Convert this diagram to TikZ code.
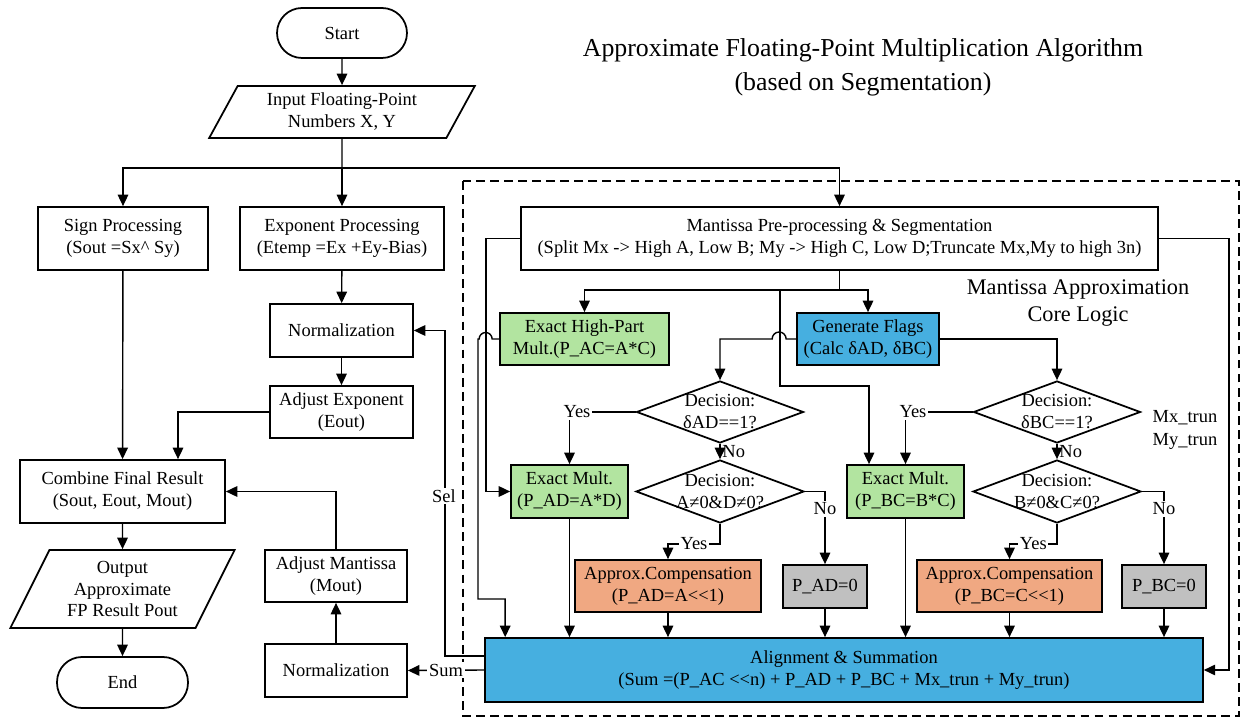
\documentclass[tikz,border=0pt]{standalone}
\usepackage{fontspec}
\setmainfont{Liberation Serif}
\usepackage{tikz}
\usetikzlibrary{shapes.geometric, arrows.meta, positioning, calc}

\definecolor{exactgreen}{RGB}{178,228,160}
\definecolor{flagblue}{RGB}{70,175,224}
\definecolor{approxorange}{RGB}{240,168,130}
\definecolor{zerogray}{RGB}{192,192,192}

\newcommand{\shl}{<\kern0pt<}

\begin{document}
\begin{tikzpicture}[x=0.02cm, y=-0.02cm, font=\fontsize{10.5}{12.5}\selectfont,
    proc/.style={draw, line width=1pt, align=center, inner sep=1pt},
    term/.style={proc, rounded corners=0.5cm},
    io/.style={draw, line width=1pt, align=center, trapezium, trapezium left angle=63,
      trapezium right angle=117, trapezium stretches=true, inner sep=1pt},
    dec/.style={draw, line width=1pt, diamond, inner sep=0pt},
    arr/.style={line width=0.8pt, -{Triangle[length=6.5pt,width=6pt]}},
    lnk/.style={line width=0.8pt},
    lbl/.style={fill=white, inner sep=1pt},
  ]
    % canvas
    \path[use as bounding box, fill=white] (0,0) rectangle (1242,719);

    % Titles
    \node[font=\fontsize{14.7}{19.5}\selectfont, align=center] (title) at (863,67)
      {Approximate Floating-Point Multiplication Algorithm\\(based on Segmentation)};
    \node[font=\fontsize{12.7}{15}\selectfont, align=center] (core) at (1078,303)
      {Mantissa Approximation\\Core Logic};

    % Dashed frame of the mantissa core
    \draw[line width=0.9pt, dash pattern=on 5pt off 3pt] (463,181) rectangle (1239,716);

    % Left column: sign / exponent / output
    \node[term, minimum width=2.6cm, minimum height=1cm] (start) at (342,33) {Start};
    \node[io, minimum width=5.32cm, minimum height=1.04cm] (inp) at (342,112) {Input Floating-Point\\Numbers X, Y};
    \node[proc, minimum width=3.4cm, minimum height=1.26cm] (sgn) at (123,238.5) {Sign Processing\\(Sout =Sx\textasciicircum{} Sy)};
    \node[proc, minimum width=4.08cm, minimum height=1.26cm] (expo) at (342,238.5) {Exponent Processing\\(Etemp =Ex +Ey-Bias)};
    \node[proc, minimum width=2.86cm, minimum height=1.06cm] (norm1) at (341.5,330.5) {Normalization};
    \node[proc, minimum width=2.86cm, minimum height=1.04cm] (adjexp) at (341.5,412) {Adjust Exponent\\(Eout)};
    \node[proc, minimum width=4.1cm, minimum height=1.26cm] (comb) at (122.5,491.5) {Combine Final Result\\(Sout, Eout, Mout)};
    \node[io, minimum width=4.5cm, minimum height=1.56cm] (outp) at (122.5,589) {Output\\Approximate\\FP Result Pout};
    \node[term, minimum width=2.62cm, minimum height=1.02cm] (endn) at (122.5,682.5) {End};
    \node[proc, minimum width=2.84cm, minimum height=1.04cm] (adjman) at (336,576) {Adjust Mantissa\\(Mout)};
    \node[proc, minimum width=2.84cm, minimum height=1.06cm] (norm2) at (336,670.5) {Normalization};

    % Mantissa core
    \node[proc, minimum width=12.74cm, minimum height=1.26cm] (mpre) at (839.5,238.5)
      {Mantissa Pre-processing \& Segmentation\\(Split Mx -> High A, Low B; My -> High C, Low D;Truncate Mx,My to high 3n)};
    \node[proc, fill=exactgreen, minimum width=3.38cm, minimum height=1.04cm] (hpm) at (584.5,339) {Exact High-Part\\Mult.(P\_AC=A*C)};
    \node[proc, fill=flagblue, minimum width=2.84cm, minimum height=1.04cm] (flags) at (868,339) {Generate Flags\\(Calc δAD, δBC)};

    % AD branch
    \node[dec, minimum width=3.34cm, minimum height=1.24cm, label={[align=center]center:{Decision:\\δAD==1?}}] (dAD) at (720,412) {};
    \node[dec, minimum width=3.36cm, minimum height=1.26cm, label={[align=center]center:{Decision:\\A≠0\&D≠0?}}] (dAD2) at (720,491.5) {};
    \node[proc, fill=exactgreen, minimum width=2.34cm, minimum height=1.06cm] (exAD) at (569.5,491.5) {Exact Mult.\\(P\_AD=A*D)};
    \node[proc, fill=approxorange, minimum width=3.72cm, minimum height=1.04cm] (apAD) at (668,586) {Approx.Compensation\\(P\_AD=A\shl1)};
    \node[proc, fill=zerogray, minimum width=1.68cm, minimum height=0.86cm] (zAD) at (825,586.5) {P\_AD=0};

    % BC branch
    \node[dec, minimum width=3.34cm, minimum height=1.24cm, label={[align=center]center:{Decision:\\δBC==1?}}] (dBC) at (1057,412) {};
    \node[dec, minimum width=3.36cm, minimum height=1.26cm, label={[align=center]center:{Decision:\\B≠0\&C≠0?}}] (dBC2) at (1057,491.5) {};
    \node[proc, fill=exactgreen, minimum width=2.34cm, minimum height=1.06cm] (exBC) at (905.5,491.5) {Exact Mult.\\(P\_BC=B*C)};
    \node[proc, fill=approxorange, minimum width=3.7cm, minimum height=1.04cm] (apBC) at (1009.5,586) {Approx.Compensation\\(P\_BC=C\shl1)};
    \node[proc, fill=zerogray, minimum width=1.68cm, minimum height=0.86cm] (zBC) at (1164,586.5) {P\_BC=0};
    \node[align=center, font=\fontsize{10.5}{13}\selectfont] (trun) at (1185,430) {Mx\_trun\\My\_trun};

    % Summation
    \node[proc, fill=flagblue, minimum width=14.36cm, minimum height=1.28cm] (align) at (844,670)
      {Alignment \& Summation\\(Sum =(P\_AC \shl n) + P\_AD + P\_BC + Mx\_trun + My\_trun)};

    % Top flow
    \coordinate (fork) at (342,168);
    \draw[arr] (start) -- (inp);
    \draw[lnk] (inp.south) -- (fork);
    \draw[arr] (fork) -| (sgn.north);
    \draw[arr] (fork) -- (expo.north);
    \draw[arr] (fork) -| (mpre.north);

    % Exponent path
    \draw[arr] (expo) -- (norm1);
    \draw[arr] (norm1) -- (adjexp);
    \draw[arr] (adjexp.west) -| ($(comb.north)+(55.5,0)$);
    \draw[arr] (sgn) -- (comb);
    \draw[arr] (comb) -- (outp);
    \draw[arr] (outp) -- (endn);

    % Mantissa result path
    \draw[arr] (align.west) -- node[lbl]{Sum} (norm2.east);
    \draw[arr] (norm2) -- (adjman);
    \draw[arr] (adjman.north) |- (comb.east);
    \draw[arr] ($(align.west)+(0,-14)$) -| ($(norm1.east)+(31,0)$) -- (norm1.east);
    \node[lbl] (sel) at (444,496) {Sel};

    % Segmentation fan-out
    \coordinate (mfork) at (839.5,290);
    \coordinate (tapBC) at (780,290);
    \draw[lnk] (mpre.south) -- (mfork);
    \draw[arr] (mfork) -| (hpm.north);
    \draw[arr] (mfork) -| (flags.north);
    \draw[arr] (tapBC) -- (780,386) -| ($(exBC.north)+(-36.5,0)$);
    \draw[arr] (mpre.west) -- ++(-34,0) |- (exAD.west);
    \draw[arr] (mpre.east) -- ++(70,0) |- (align.east);
    \draw[arr] (hpm.west) -- ++(-7,0) arc[start angle=0, end angle=180, radius=0.13cm]
      -- (478,339) -- (478,599) -| ($(align.north west)+(21,0)$);

    % Flags to decisions
    \draw[arr] (flags.west) -- ++(-10,0) arc[start angle=0, end angle=180, radius=0.14cm] -| (dAD.north);
    \draw[arr] (flags.east) -| (dBC.north);

    % Decisions AD
    \draw[arr] (dAD.west) -| node[lbl, pos=0.5, xshift=0.15cm]{Yes} (exAD.north);
    \draw[arr] (dAD.south) -- node[right, inner sep=1pt]{No} (dAD2.north);
    \draw[arr] (dAD2.south) -- ++(0,20) -| node[lbl, pos=0.25]{Yes} (apAD.north);
    \draw[arr] (dAD2.east) -| node[lbl, pos=0.62]{No} (zAD.north);

    % Decisions BC
    \draw[arr] (dBC.west) -| node[lbl, pos=0.5, xshift=0.15cm]{Yes} (exBC.north);
    \draw[arr] (dBC.south) -- node[right, inner sep=1pt]{No} (dBC2.north);
    \draw[arr] (dBC2.south) -- ++(0,20) -| node[lbl, pos=0.25]{Yes} (apBC.north);
    \draw[arr] (dBC2.east) -| node[lbl, pos=0.62]{No} (zBC.north);

    % Partial products into summation
    \foreach \part in {exAD, apAD, zAD, exBC, apBC, zBC} {
      \draw[arr] (\part.south) -- (\part.south |- align.north);
    }
\end{tikzpicture}
\end{document}
